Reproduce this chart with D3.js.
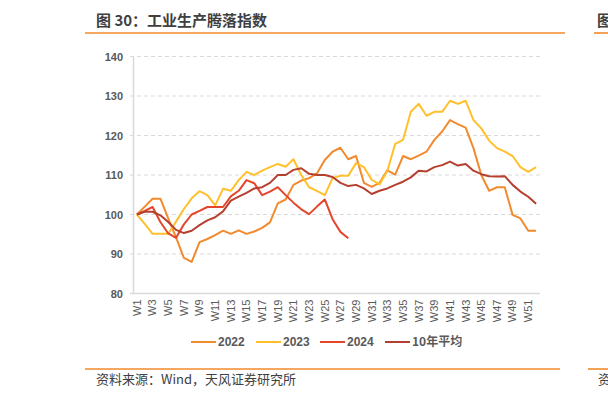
<!DOCTYPE html>
<html>
<head>
<meta charset="utf-8">
<script src="https://cdn.jsdelivr.net/npm/d3@7"></script>
<style>
  body { margin: 0; background: #fff; }
  svg { display: block; }
</style>
</head>
<body>
<div id="chart"></div>
<script>
// categories
var weeks = ['W1','W2','W3','W4','W5','W6','W7','W8','W9','W10','W11','W12','W13','W14','W15','W16','W17','W18','W19','W20',
  'W21','W22','W23','W24','W25','W26','W27','W28','W29','W30','W31','W32','W33','W34','W35','W36','W37','W38','W39','W40',
  'W41','W42','W43','W44','W45','W46','W47','W48','W49','W50','W51','W52'];

// series values
var y2022 = [100,102,104,104,99,94.2,89,88,93,93.8,94.8,95.9,95.1,96,95.1,95.7,96.6,98,102.8,103.8,
  107.5,108.6,109.2,110.4,113.8,115.9,116.9,114,114.8,108,107,108,111.2,110.1,114.8,114,114.9,115.9,118.9,121,
  123.9,122.9,122,116.8,110,106,106.9,106.9,99.9,99,95.9,95.9];
var y2023 = [100,97.6,95.1,95.1,95.1,98.2,101.4,104.1,105.9,104.9,102.3,106.5,106,108.7,110.8,110,111.1,112,112.8,112.1,
  114,110,106.9,106,104.9,109.2,109.8,109.8,113,112,108.8,107.6,111,117.9,118.9,126,128,125,126,126,
  128.8,128,128.8,123.9,121.8,118.7,116.8,115.9,114.8,112,110.8,112];
var y2024 = [100,100.9,101.9,98.1,95.2,94.1,97.5,100,100.9,101.9,101.9,101.9,104.6,106,108.7,107.9,104.9,105.8,106.9,104.9,
  103,101.3,100.1,102,103.8,98.8,95.6,94];
var yAvg = [100,100.7,100.7,99.8,98.1,96.1,95.3,95.9,97.3,98.5,99.3,100.8,103.5,104.5,105.5,106.6,106.9,108,110,110,
  111.3,111.7,110.3,110,110,109.5,108,107.2,107.5,106.6,105.2,106,106.6,107.5,108.3,109.4,111.1,110.9,112,112.5,
  113.4,112.4,112.8,111.1,110.2,109.7,109.6,109.7,107.5,105.8,104.5,102.7];

// tick labels
var yTicks = [80, 90, 100, 110, 120, 130, 140];
var xTickLabels = weeks.filter(function (d, i) { return i % 2 === 0; });

var seriesNames = ['2022', '2023', '2024', '10年平均'];
var seriesColors = ['#F28A2E', '#FFC02B', '#E3462B', '#B5402F'];
var seriesData = [y2022, y2023, y2024, yAvg];

var attrs = {
  svgWidth: 608,
  svgHeight: 397,
  plotLeft: 133,
  plotRight: 540,
  plotTop: 56.5,
  plotBottom: 293.5,
  accent: '#F28A2E',
  textFill: '#595959',
  numFont: '"Liberation Sans", Arial, sans-serif',
  cjkFont: '"Noto Sans CJK SC", "Noto Sans", sans-serif'
};

var svg = d3.select('#chart').append('svg')
  .attr('width', attrs.svgWidth)
  .attr('height', attrs.svgHeight)
  .style('background', '#fff');

var x = d3.scaleBand().domain(weeks).range([attrs.plotLeft, attrs.plotRight]).padding(0);
var y = d3.scaleLinear().domain([80, 140]).range([attrs.plotBottom, attrs.plotTop]);
var cx = function (w) { return x(w) + x.bandwidth() / 2; };

// Title + rule
svg.append('text')
  .attr('x', 96).attr('y', 26)
  .attr('font-family', attrs.cjkFont)
  .attr('font-size', 15).attr('font-weight', 700)
  .attr('fill', '#404040')
  .text('图 30：工业生产腾落指数');
svg.append('line').attr('x1', 85).attr('x2', 565).attr('y1', 33).attr('y2', 33)
  .attr('stroke', attrs.accent).attr('stroke-width', 1.6);
// neighbouring figure, cut by the frame
svg.append('text')
  .attr('x', 597).attr('y', 26)
  .attr('font-family', attrs.cjkFont)
  .attr('font-size', 15).attr('font-weight', 700)
  .attr('fill', '#404040')
  .text('图');
svg.append('line').attr('x1', 594).attr('x2', 608).attr('y1', 33).attr('y2', 33)
  .attr('stroke', attrs.accent).attr('stroke-width', 1.6);

// Grid
svg.append('g').selectAll('line')
  .data(yTicks.filter(function (d) { return d > 80; }))
  .enter().append('line')
  .attr('x1', 130).attr('x2', attrs.plotRight)
  .attr('y1', function (d) { return y(d); })
  .attr('y2', function (d) { return y(d); })
  .attr('stroke', '#d9d9d9').attr('stroke-width', 1)
  .attr('stroke-dasharray', '4,3');

// Y axis
var yAxis = d3.axisLeft(y).tickValues(yTicks).tickSize(0).tickPadding(10);
var gy = svg.append('g')
  .attr('transform', 'translate(' + attrs.plotLeft + ',0)')
  .call(yAxis);
gy.select('.domain').attr('stroke', '#d9d9d9').attr('stroke-width', 1.5);
gy.selectAll('text')
  .attr('font-family', attrs.numFont)
  .attr('font-size', 11).attr('font-weight', 700)
  .attr('fill', attrs.textFill);

// X axis
var xAxis = d3.axisBottom(x).tickValues(xTickLabels).tickSize(0).tickPadding(0);
var gx = svg.append('g')
  .attr('transform', 'translate(0,' + attrs.plotBottom + ')')
  .call(xAxis);
gx.select('.domain').attr('d', 'M130,0H' + attrs.plotRight)
  .attr('stroke', '#d9d9d9').attr('stroke-width', 1.5);
gx.selectAll('text')
  .attr('font-family', attrs.numFont)
  .attr('font-size', 11).attr('font-weight', 400)
  .attr('fill', attrs.textFill)
  .attr('transform', 'translate(0,6) rotate(-90)')
  .attr('text-anchor', 'end')
  .attr('dy', '0.35em')
  .attr('x', 0).attr('y', 0);

// Lines
var line = d3.line()
  .x(function (d, i) { return cx(weeks[i]); })
  .y(function (d) { return y(d); });

svg.append('g').selectAll('path')
  .data(seriesData)
  .enter().append('path')
  .attr('d', function (d) { return line(d); })
  .attr('fill', 'none')
  .attr('stroke', function (d, i) { return seriesColors[i]; })
  .attr('stroke-width', 2)
  .attr('stroke-linejoin', 'round');

// Legend
var legendX = [191, 256, 320, 385];
var legend = svg.append('g').selectAll('g')
  .data(seriesNames)
  .enter().append('g')
  .attr('transform', function (d, i) { return 'translate(' + legendX[i] + ',342)'; });
legend.append('line')
  .attr('x1', 0).attr('x2', 25)
  .attr('stroke', function (d, i) { return seriesColors[i]; })
  .attr('stroke-width', 2);
legend.append('text')
  .attr('x', 27).attr('dy', '0.35em')
  .attr('font-family', function (d) { return /年/.test(d) ? attrs.cjkFont : attrs.numFont; })
  .attr('font-size', 12).attr('font-weight', 700)
  .attr('fill', attrs.textFill)
  .text(function (d) { return d; });

// Source + rule
svg.append('line').attr('x1', 85).attr('x2', 560).attr('y1', 369).attr('y2', 369)
  .attr('stroke', attrs.accent).attr('stroke-width', 1.6);
svg.append('line').attr('x1', 588).attr('x2', 608).attr('y1', 369).attr('y2', 369)
  .attr('stroke', attrs.accent).attr('stroke-width', 1.6);
svg.append('text')
  .attr('x', 96).attr('y', 384)
  .attr('font-family', attrs.cjkFont)
  .attr('font-size', 13)
  .attr('fill', '#404040')
  .text('资料来源：Wind，天风证券研究所');
svg.append('text')
  .attr('x', 598).attr('y', 384)
  .attr('font-family', attrs.cjkFont)
  .attr('font-size', 13)
  .attr('fill', '#404040')
  .text('资');
</script>
</body>
</html>
